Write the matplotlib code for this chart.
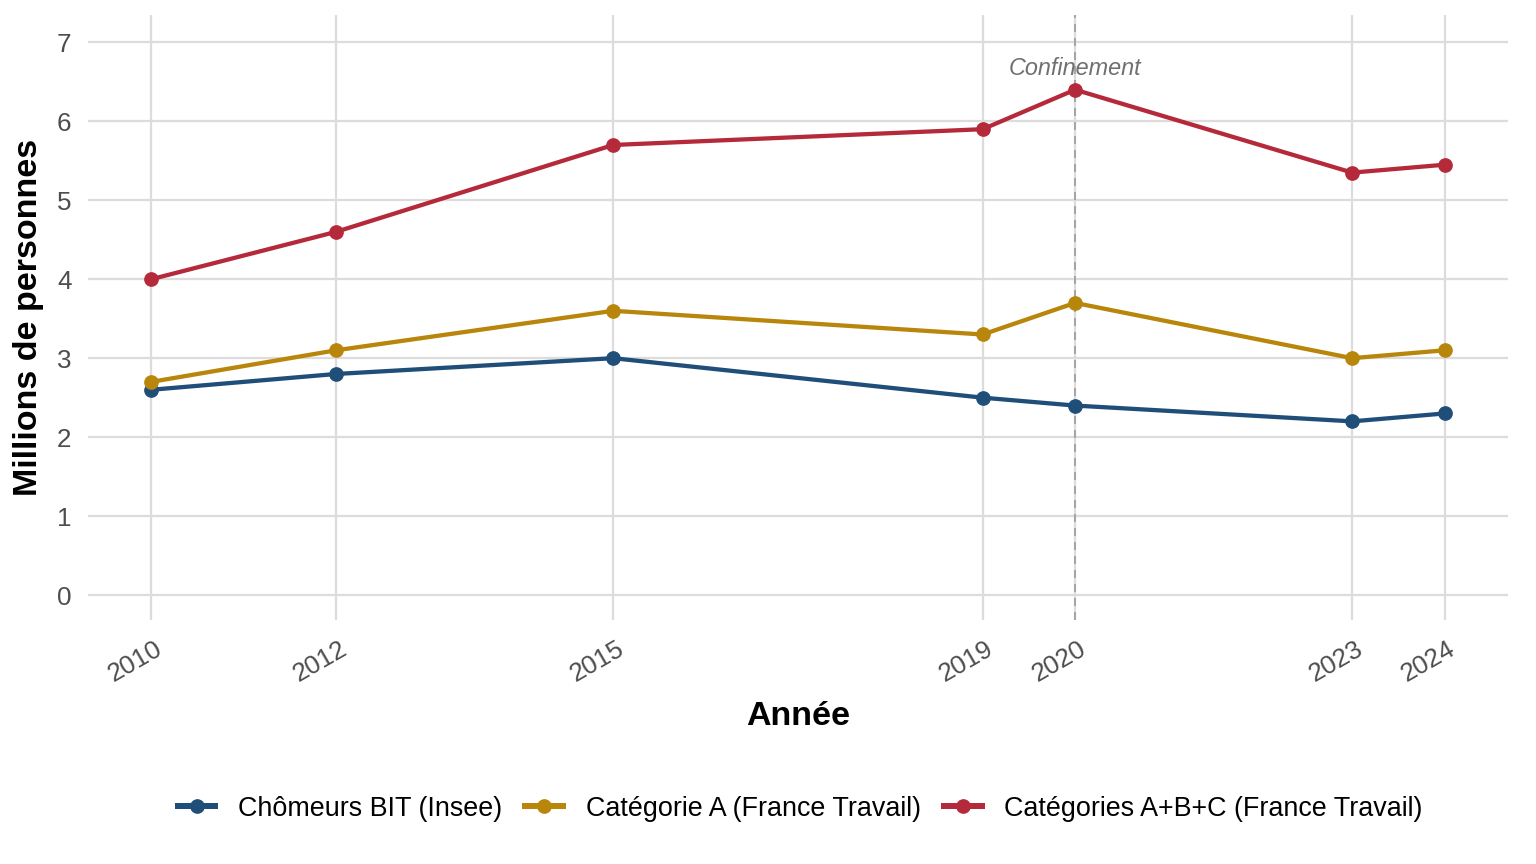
import matplotlib
matplotlib.use("Agg")
import matplotlib.pyplot as plt
from matplotlib.transforms import ScaledTranslation

plt.rcParams['font.family'] = ['Liberation Sans', 'DejaVu Sans']

years = [2010, 2012, 2015, 2019, 2020, 2023, 2024]
bit = [2.6, 2.8, 3.0, 2.5, 2.4, 2.2, 2.3]
cat_a = [2.7, 3.1, 3.6, 3.3, 3.7, 3.0, 3.1]
cat_abc = [4.0, 4.6, 5.7, 5.9, 6.4, 5.35, 5.45]

series = [
    ("Chômeurs BIT (Insee)", bit, "#1f4e79"),
    ("Catégorie A (France Travail)", cat_a, "#b8860b"),
    ("Catégories A+B+C (France Travail)", cat_abc, "#b52a3a"),
]

fig = plt.figure(figsize=(16, 9), dpi=96)
ax = fig.add_axes([0.057, 0.282, 0.925, 0.701])

for label, vals, col in series:
    ax.plot(years, vals, color=col, lw=3.2, marker="o", ms=10, label=label, zorder=3)

ax.axvline(2020, color="#a6a6a6", ls=(0, (4, 3)), lw=1.5, zorder=2)
ax.text(2020, 6.52, "Confinement", style="italic", color="#707070",
        fontsize=17.5, ha="center", va="bottom")

ax.set_xlim(2009.31, 2024.69)
ax.set_ylim(-0.32, 7.35)
ax.set_xticks(years)
ax.set_yticks(range(0, 8))
ax.grid(True, color="#dcdcdc", lw=1.7, zorder=0)
for s in ax.spines.values():
    s.set_visible(False)
ax.tick_params(length=0, labelsize=19.5, labelcolor="#4d4d4d")
ax.tick_params(axis="y", pad=12)
ax.tick_params(axis="x", pad=12)
offset = ScaledTranslation(3 / 96, 0, fig.dpi_scale_trans)
for t in ax.get_xticklabels():
    t.set_rotation(30)
    t.set_ha("right")
    t.set_va("top")
    t.set_rotation_mode("anchor")
    t.set_transform(t.get_transform() + offset)

ax.set_xlabel("Année", fontsize=25.5, fontweight="bold", labelpad=11)
ax.set_ylabel("Millions de personnes", fontsize=25.5, fontweight="bold", labelpad=10)

leg = fig.legend(loc="center", bbox_to_anchor=(0.521, 0.064), ncol=3, frameon=False,
                 fontsize=20.2, handlelength=1.4, columnspacing=0.85, handletextpad=0.85)
for h in leg.legend_handles:
    h.set_linewidth(4.5)

fig.savefig("out.png", dpi=96)
